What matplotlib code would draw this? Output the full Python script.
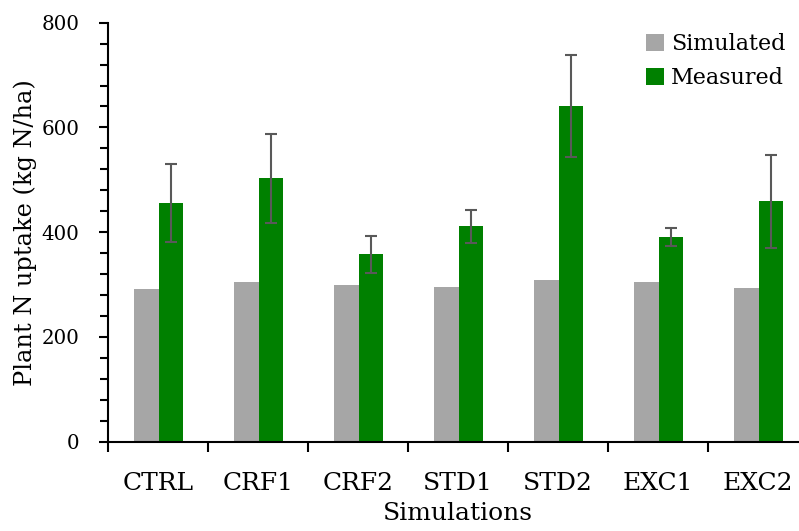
import matplotlib
matplotlib.use("Agg")
import matplotlib.pyplot as plt
import numpy as np
from matplotlib.ticker import MultipleLocator, FixedLocator

categories = ["CTRL", "CRF1", "CRF2", "STD1", "STD2", "EXC1", "EXC2"]
simulated = [291, 304, 300, 295, 309, 304, 293]
measured = [456, 503, 358, 411, 641, 391, 459]
measured_err = [74, 85, 35, 32, 97, 17, 89]

plt.rcParams['font.family'] = ['DejaVu Serif']

W, H = 799, 531
fig = plt.figure(figsize=(W / 100, H / 100), dpi=100)
ax = fig.add_axes([108 / W, (H - 441.7) / H, (808 - 108) / W, (441.7 - 22.7) / H])

x = np.arange(len(categories))
bw = 0.245
ax.bar(x - 0.115, simulated, width=bw, color="#A6A6A6", label="Simulated", zorder=2)
ax.bar(x + 0.13, measured, width=bw, color="#008000", label="Measured", zorder=2)
ax.errorbar(x + 0.13, measured, yerr=measured_err, fmt="none", ecolor="#595959",
            elinewidth=1.5, capsize=4.3, capthick=1.5, zorder=3)

ax.set_xlim(-0.5, len(categories) - 0.5)
ax.set_ylim(0, 800)
ax.spines['top'].set_visible(False)
ax.spines['right'].set_visible(False)
for s in ['left', 'bottom']:
    ax.spines[s].set_linewidth(1.5)

ax.set_xticks(x)
ax.set_xticklabels(categories, fontsize=18)
ax.xaxis.set_minor_locator(FixedLocator(np.arange(-0.5, len(categories), 1.0)))
ax.tick_params(axis='x', which='major', length=0, pad=22)
ax.tick_params(axis='x', which='minor', length=7.2, width=1.5, direction='out')

ax.yaxis.set_major_locator(MultipleLocator(200))
ax.yaxis.set_minor_locator(MultipleLocator(40))
ax.tick_params(axis='y', which='major', length=6.5, width=1.5, labelsize=14.3, pad=14)
ax.tick_params(axis='y', which='minor', length=5.5, width=1.5)

ax.set_xlabel("Simulations", fontsize=18, labelpad=4.5)
ax.set_ylabel("Plant N uptake (kg N/ha)", fontsize=17.3, labelpad=3)

leg = ax.legend(loc='upper left', bbox_to_anchor=(646 / W, (H - 33) / H),
                bbox_transform=fig.transFigure, frameon=False, fontsize=16,
                handlelength=0.8, handleheight=0.8, handletextpad=0.33,
                labelspacing=0.55, borderpad=0, borderaxespad=0)

fig.savefig("out.png", dpi=100)
